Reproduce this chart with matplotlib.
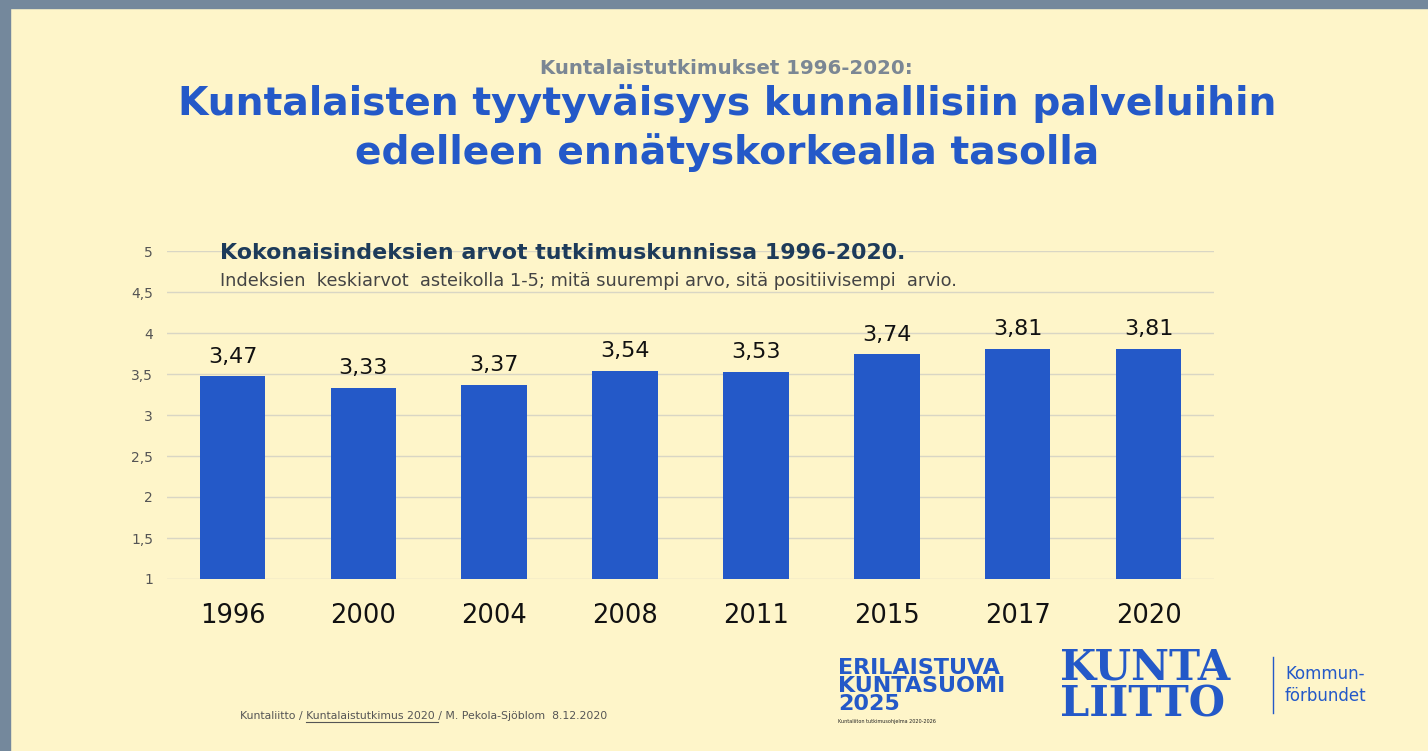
import matplotlib.pyplot as plt
from matplotlib.patches import Rectangle

# data
years = ["1996", "2000", "2004", "2008", "2011", "2015", "2017", "2020"]
values = [3.47, 3.33, 3.37, 3.54, 3.53, 3.74, 3.81, 3.81]
yticks = [1, 1.5, 2, 2.5, 3, 3.5, 4, 4.5, 5]

bg = "#fef5c9"
blue = "#2459c8"
W, H = 1428, 751

fig = plt.figure(figsize=(W / 100, H / 100), dpi=100)
fig.patch.set_facecolor(bg)

# slide frame (grey-blue strips on left and top)
fig.patches.append(Rectangle((0, 0), 10 / W, 1, transform=fig.transFigure,
                             color="#74889c", zorder=0))
fig.patches.append(Rectangle((0, 1 - 8 / H), 1, 8 / H, transform=fig.transFigure,
                             color="#74889c", zorder=0))

ax = fig.add_axes([167 / W, 1 - 579 / H, 1047 / W, 328 / H])
ax.set_facecolor(bg)
x = list(range(len(years)))
ax.bar(x, values, width=0.5, color=blue, zorder=3)
ax.set_xlim(-0.5, len(years) - 0.5)
ax.set_ylim(1, 5)
ax.set_yticks(yticks)
ax.set_yticklabels([str(t).replace(".", ",") for t in yticks], fontsize=10, color="#555555")
ax.set_xticks(x)
ax.set_xticklabels(years, fontsize=18.5, color="#111111")
ax.tick_params(axis="y", length=0, pad=10)
ax.tick_params(axis="x", length=0, pad=17)
ax.grid(axis="y", color="#d9d6c4", linewidth=1, zorder=0)
for s in ax.spines.values():
    s.set_visible(False)

for xi, v in zip(x, values):
    ax.annotate(f"{v:.2f}".replace(".", ","), (xi, v), xytext=(0, 7),
                textcoords="offset points", ha="center", va="bottom",
                fontsize=16, color="#111111")

# headings
fig.text(0.509, 1 - 68 / H, "Kuntalaistutkimukset 1996-2020:", ha="center", va="center",
         fontsize=14.2, fontweight="bold", color="#7b8794")
fig.text(0.509, 1 - 104 / H, "Kuntalaisten tyytyväisyys kunnallisiin palveluihin",
         ha="center", va="center", fontsize=28.3, fontweight="heavy", color=blue)
fig.text(0.509, 1 - 153 / H, "edelleen ennätyskorkealla tasolla",
         ha="center", va="center", fontsize=28.3, fontweight="heavy", color=blue)

fig.text(220 / W, 1 - 253 / H, "Kokonaisindeksien arvot tutkimuskunnissa 1996-2020.",
         ha="left", va="center", fontsize=15.9, fontweight="bold", color="#1d3b5a")
fig.text(220 / W, 1 - 281 / H,
         "Indeksien  keskiarvot  asteikolla 1-5; mitä suurempi arvo, sitä positiivisempi  arvio.",
         ha="left", va="center", fontsize=12.8, color="#444444")

# footer with underlined link part
foot_y = 1 - 716 / H
part1 = "Kuntaliitto / "
part2 = "Kuntalaistutkimus 2020 "
part3 = "/ M. Pekola-Sjöblom  8.12.2020"
fig.text(240 / W, foot_y, part1 + part2 + part3, ha="left", va="center",
         fontsize=7.8, color="#555555")
fig.canvas.draw()
r = fig.canvas.get_renderer()
t1 = fig.text(240 / W, foot_y, part1, fontsize=7.8, va="center")
t2 = fig.text(240 / W, foot_y, part1 + part2, fontsize=7.8, va="center")
x0 = t1.get_window_extent(r).x1 / W
x1 = t2.get_window_extent(r).x1 / W
t1.remove()
t2.remove()
fig.add_artist(plt.Line2D([x0, x1], [foot_y - 6 / H, foot_y - 6 / H],
                          color="#555555", linewidth=0.8))

# logos
fig.text(838 / W, 1 - 686 / H, "ERILAISTUVA\nKUNTASUOMI\n2025", ha="left", va="center",
         fontsize=16, fontweight="heavy", color=blue, linespacing=0.86)
fig.text(838 / W, 1 - 721 / H, "Kuntaliiton tutkimusohjelma 2020-2026", ha="left",
         va="center", fontsize=3.5, color="#222222")
fig.text(1060 / W, 1 - 686 / H, "KUNTA\nLIITTO", ha="left", va="center",
         fontsize=30, fontweight="bold", family="DejaVu Serif", color=blue, linespacing=0.82)
fig.add_artist(plt.Line2D([1273 / W, 1273 / W], [1 - 657 / H, 1 - 713 / H],
                          color=blue, linewidth=1))
fig.text(1285 / W, 1 - 685 / H, "Kommun-\nförbundet", ha="left", va="center",
         fontsize=12, color=blue, linespacing=1.25)

fig.savefig("out.png", dpi=100, facecolor=fig.get_facecolor())
